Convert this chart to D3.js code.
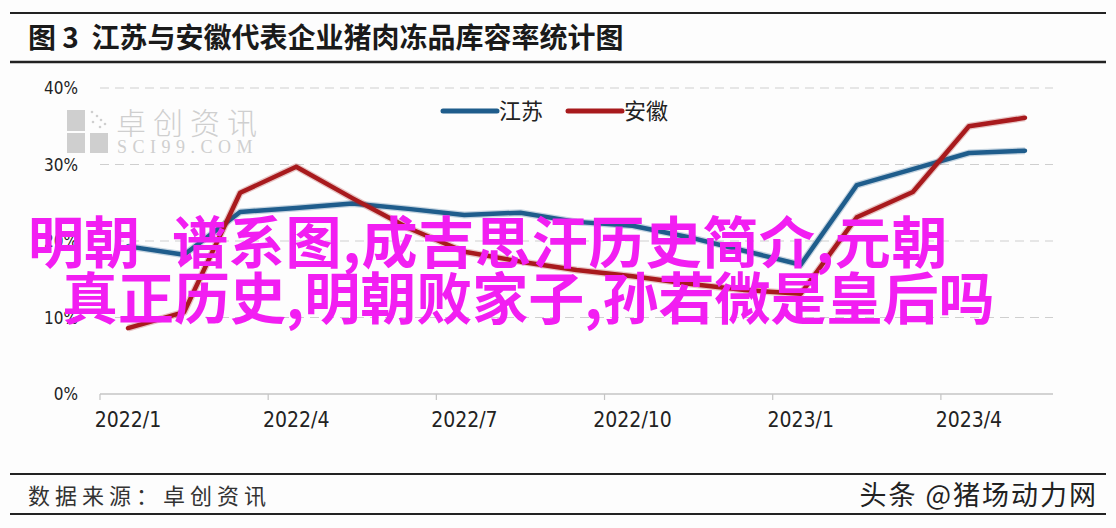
<!DOCTYPE html>
<html><head><meta charset="utf-8">
<script src="https://cdn.jsdelivr.net/npm/d3@7"></script>
<style>
html,body{margin:0;padding:0;background:#fff;}
svg{display:block;}
</style></head>
<body>
<svg id="chart" width="1116" height="528"></svg>
<script>
const months = ["2022/1","2022/2","2022/3","2022/4","2022/5","2022/6","2022/7","2022/8","2022/9","2022/10","2022/11","2022/12","2023/1","2023/2","2023/3","2023/4","2023/5"];
const jiangsu = [19.3,18.2,23.8,24.3,24.9,24.2,23.4,23.7,22.5,22.0,20.5,18.7,16.9,27.3,29.4,31.5,31.8];
const anhui   = [8.6,10.7,26.3,29.7,25.6,21.7,18.6,17.3,16.2,15.4,14.4,13.6,13.1,23.1,26.4,35.0,36.1];
const yTicks = [0,10,20,30,40];
const xLabelMonths = ["2022/1","2022/4","2022/7","2022/10","2023/1","2023/4"];
const seriesNames = ["江苏","安徽"];
const seriesColors = ["#1f5d8c","#a81a1d"];
const title = "图 3  江苏与安徽代表企业猪肉冻品库容率统计图";
const source = "数据来源：卓创资讯";
const credit = "头条 @猪场动力网";
const overlay1a = "明朝";
const overlay1b = "谱系图,成吉思汗历史简介,元朝";
const overlay2 = "真正历史,明朝败家子,孙若微是皇后吗";

const svg = d3.select("#chart");
const W = 1116;

// background
svg.append("rect").attr("width",W).attr("height",528).attr("fill","#fdfdfd");

// title rules
svg.append("line").attr("x1",10).attr("x2",1106).attr("y1",13).attr("y2",13).attr("stroke","#222").attr("stroke-width",2);
svg.append("line").attr("x1",10).attr("x2",1106).attr("y1",62).attr("y2",62).attr("stroke","#222").attr("stroke-width",2.5);
svg.append("text").attr("x",28).attr("y",48).text(title)
  .attr("font-family","'Noto Sans CJK SC',sans-serif").attr("font-weight",700)
  .attr("font-size",28).attr("fill","#1a1a1a").style("white-space","pre");

// footer
svg.append("line").attr("x1",10).attr("x2",1106).attr("y1",474).attr("y2",474).attr("stroke","#222").attr("stroke-width",2);
svg.append("line").attr("x1",10).attr("x2",1106).attr("y1",514).attr("y2",514).attr("stroke","#222").attr("stroke-width",2);
svg.append("text").attr("x",28).attr("y",504).text(source)
  .attr("font-family","'Noto Sans CJK SC',sans-serif").attr("font-size",22).attr("letter-spacing",5).attr("fill","#333");
svg.append("text").attr("x",1098).attr("y",505).attr("text-anchor","end").text(credit)
  .attr("font-family","'Noto Sans CJK SC',sans-serif").attr("font-size",27).attr("letter-spacing",2).attr("fill","#222");

// scales
const x = d3.scaleBand().domain(months).range([100,1053]);
const y = d3.scaleLinear().domain([0,40]).range([394,88]);

// watermark
const wm = svg.append("g").attr("fill","#cfcfcf");
wm.append("rect").attr("x",67).attr("y",110).attr("width",18).attr("height",21);
wm.append("rect").attr("x",67).attr("y",133).attr("width",18).attr("height",20);
wm.append("rect").attr("x",90).attr("y",133).attr("width",18).attr("height",20);
[[92,112],[97,116],[101,120],[105,124],[93,122],[100,127]].forEach(p=>wm.append("circle").attr("cx",p[0]).attr("cy",p[1]).attr("r",1.3));
wm.append("text").attr("x",116).attr("y",134).text("卓创资讯")
  .attr("font-family","'Noto Sans CJK SC',sans-serif").attr("font-weight",300).attr("font-size",30).attr("letter-spacing",7);
wm.append("text").attr("x",117).attr("y",153).text("SCI99.COM")
  .attr("font-family","'Liberation Serif',serif").attr("font-size",18).attr("letter-spacing",5.5);

// gridlines
svg.append("g").selectAll("line").data(yTicks.filter(d=>d>0)).join("line")
  .attr("x1",100).attr("x2",1053).attr("y1",d=>y(d)).attr("y2",d=>y(d))
  .attr("stroke","#cfcfcf").attr("stroke-width",1.2).attr("stroke-dasharray","9,6");

// y labels
svg.append("g").selectAll("text").data(yTicks).join("text")
  .attr("x",78).attr("y",d=>y(d)+6).attr("text-anchor","end")
  .text(d=>d+"%")
  .attr("font-family","'DejaVu Sans Condensed','DejaVu Sans',sans-serif").attr("font-size",17).attr("fill","#222");

// x axis
const xAxisG = svg.append("g").attr("transform","translate(0,394)");
xAxisG.append("line").attr("x1",100).attr("x2",1053).attr("stroke","#c4c4c4").attr("stroke-width",1.3);
xAxisG.selectAll("line.tick").data(xLabelMonths).join("line").attr("class","tick")
  .attr("x1",d=>x(d)).attr("x2",d=>x(d)).attr("y1",0).attr("y2",6)
  .attr("stroke","#c4c4c4").attr("stroke-width",1.2);
xAxisG.selectAll("text").data(xLabelMonths).join("text")
  .attr("x",d=>x(d)+x.bandwidth()/2).attr("y",33).attr("text-anchor","middle")
  .text(d=>d)
  .attr("font-family","'DejaVu Sans Condensed','DejaVu Sans',sans-serif").attr("font-size",21).attr("fill","#222");

// lines
const line = d3.line().x((d,i)=>x(months[i])+x.bandwidth()/2).y(d=>y(d));
[jiangsu, anhui].forEach((s,k)=>{
  svg.append("path").datum(s).attr("d",line).attr("fill","none")
    .attr("stroke",seriesColors[k]).attr("stroke-opacity",0.25).attr("stroke-width",7)
    .attr("stroke-linejoin","round");
  svg.append("path").datum(s).attr("d",line).attr("fill","none")
    .attr("stroke",seriesColors[k]).attr("stroke-width",4.5)
    .attr("stroke-linejoin","round").attr("stroke-linecap","round");
});

// legend
const lg = svg.append("g");
const legX = [443, 568];
seriesNames.forEach((n,k)=>{
  lg.append("line").attr("x1",legX[k]).attr("x2",legX[k]+54).attr("y1",111).attr("y2",111)
    .attr("stroke",seriesColors[k]).attr("stroke-width",5).attr("stroke-linecap","round");
  lg.append("text").attr("x",legX[k]+56).attr("y",119).text(n)
    .attr("font-family","'Noto Sans CJK SC',sans-serif").attr("font-size",22).attr("fill","#222");
});

// overlay text
const ov = svg.append("g").attr("fill","#f21ef2")
  .attr("font-family","'Noto Sans CJK SC',sans-serif").attr("font-weight",700).attr("font-size",56);
ov.append("text").attr("x",28).attr("y",263).text(overlay1a);
ov.append("text").attr("x",172).attr("y",263).attr("letter-spacing",0.8).text(overlay1b);
ov.append("text").attr("x",62).attr("y",319).text(overlay2);
</script>
</body></html>
